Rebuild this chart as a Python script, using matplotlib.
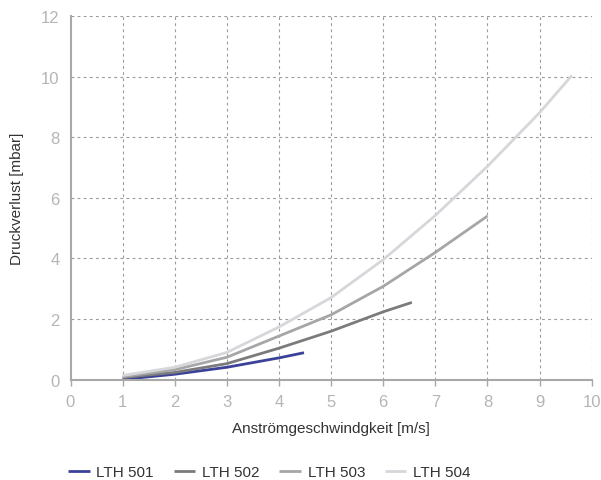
import numpy as np
import matplotlib
matplotlib.use("Agg")
from matplotlib import pyplot as plt

x501 = [1, 2, 3, 4, 4.48]
y501 = [0.01, 0.18, 0.41, 0.72, 0.89]

x502 = [1, 2, 3, 4, 5, 6, 6.55]
y502 = [0.07, 0.24, 0.53, 1.04, 1.60, 2.24, 2.55]

x503 = [1, 2, 3, 4, 5, 6, 7, 8]
y503 = [0.10, 0.33, 0.74, 1.44, 2.14, 3.08, 4.20, 5.40]

x504 = [1, 2, 3, 4, 5, 6, 7, 8, 9, 9.62]
y504 = [0.14, 0.41, 0.90, 1.74, 2.71, 3.96, 5.42, 7.04, 8.81, 10.04]

names = ["LTH 501", "LTH 502", "LTH 503", "LTH 504"]
colors = ["#3b4199", "#7b7b7d", "#a6a6a8", "#d6d7db"]

plt.rcParams['font.family'] = ['Liberation Sans', 'DejaVu Sans']

fig = plt.figure(figsize=(6.01, 4.81), dpi=100)
ax = fig.add_axes([70.5/601, 1-380.7/481, (591.7-70.5)/601, (380.7-17)/481])

series = [(x501, y501), (x502, y502), (x503, y503), (x504, y504)]
for (xs, ys), n, c in zip(series, names, colors):
    ax.plot(xs, ys, color=c, lw=2.0, label=n, solid_capstyle='butt')

ax.set_xlim(0, 10)
ax.set_ylim(0, 12)
ax.set_xticks(range(0, 11))
ax.set_yticks(range(0, 13, 2))

gridc = "#9a9a9a"
for v in range(1, 11):
    ax.axvline(v, color=gridc, lw=0.8, ls=(0, (2.5, 3)), zorder=0)
for v in range(2, 13, 2):
    ax.axhline(v, color=gridc, lw=0.8, ls=(0, (2.5, 3)), zorder=0)

for s in ['top', 'right']:
    ax.spines[s].set_visible(False)
for s in ['left', 'bottom']:
    ax.spines[s].set_color("#a8a8a8")
    ax.spines[s].set_linewidth(1.5)

ax.tick_params(axis='x', colors="#a8a8a8", length=4, width=1, labelsize=12,
               labelcolor="#b5b5b5", pad=6)
ax.tick_params(axis='y', length=0, labelsize=12, labelcolor="#b5b5b5", pad=8)

ax.set_xlabel("Anströmgeschwindgkeit [m/s]", fontsize=11, color="#333333", labelpad=9)
ax.set_ylabel("Druckverlust [mbar]", fontsize=11, color="#333333", labelpad=12)

fig.legend(loc='center left', bbox_to_anchor=(62/601, 1-473/481), ncol=4, frameon=False,
           fontsize=11, handlelength=1.4, handletextpad=0.45, columnspacing=1.3,
           labelcolor="#333333", borderaxespad=0)

fig.savefig("out.png", dpi=100)
